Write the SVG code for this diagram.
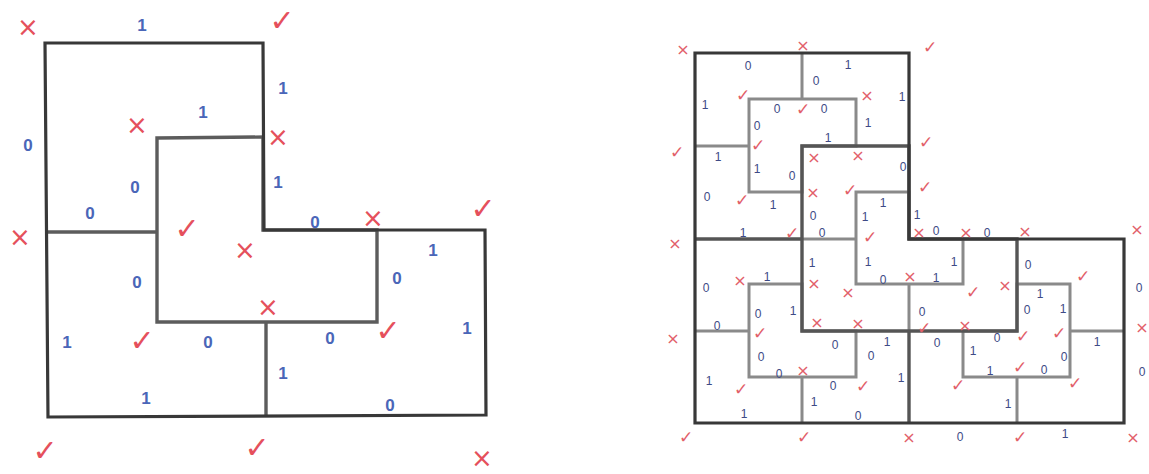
<svg xmlns="http://www.w3.org/2000/svg" width="1149" height="474" viewBox="0 0 1149 474">
<style>
.bg{fill:#ffffff}
.o{fill:none;stroke:#383838;stroke-width:3.2;stroke-linejoin:miter}
.l1{fill:none;stroke:#555555;stroke-width:3.4}
.l2{fill:none;stroke:#8a8a8a;stroke-width:3}
.in{fill:none;stroke:#5c5c5c;stroke-width:3.4}
text{text-anchor:middle;dominant-baseline:central}
.b{fill:#4a66b8;font-family:"Liberation Sans",Arial,sans-serif;font-size:17px;font-weight:bold}
.r{fill:#e5505c;font-family:"DejaVu Sans",sans-serif;font-size:26px}
.rc{fill:#e5505c;font-family:"DejaVu Sans",sans-serif;font-size:30px}
.bs{fill:#3e4a86;font-family:"Liberation Sans",Arial,sans-serif;font-size:12px}
.rs{fill:#e2606a;font-family:"DejaVu Sans",sans-serif;font-size:16px}
.rcs{fill:#e2606a;font-family:"DejaVu Sans",sans-serif;font-size:17px}
</style>
<rect class="bg" x="0" y="0" width="1149" height="474"/>

<g id="left-figure">
  <path class="in" d="M157,138 L263,137 L263,230 L377,230 L377,322 L157,322 Z"/>
  <path class="in" d="M46,232 L157,232 M266,322 L266,417"/>
  <path class="o" d="M45,43 L263,43 L264,230 L485,230 L486,415 L48,417 Z"/>
</g>

<g id="right-figure">
  <g id="level2">
    <path class="l2" d="M749,99 L856,99 L856,146 L802,146 L802,192 L749,192 Z M802,53 L802,99 M695,146 L749,146"/>
    <path class="l2" d="M856,192 L909,192 L909,239 L963,239 L963,284 L856,284 Z M802,239 L856,239 M909,284 L909,331"/>
    <path class="l2" d="M749,284 L802,284 L802,331 L856,331 L856,377 L749,377 Z M695,331 L749,331 M802,377 L802,423"/>
    <path class="l2" d="M1017,284 L1070,284 L1070,377 L963,377 L963,331 L1017,331 Z M1070,331 L1124,331 M1017,377 L1017,423"/>
  </g>
  <g id="level1">
    <path class="l1" d="M802,146 L909,146 L909,239 L1017,239 L1017,331 L802,331 Z M695,239 L802,239 M909,331 L909,423"/>
  </g>
  <path class="o" d="M695,53 L909,53 L909,239 L1124,239 L1124,423 L695,423 Z"/>
</g>

<g id="left-labels">
  <text class="r" x="28" y="27">×</text>
  <text class="b" x="142" y="25">1</text>
  <text class="rc" x="282" y="20">✓</text>
  <text class="b" x="283" y="88">1</text>
  <text class="b" x="203" y="112">1</text>
  <text class="r" x="137" y="125">×</text>
  <text class="r" x="278" y="137">×</text>
  <text class="b" x="28" y="145">0</text>
  <text class="b" x="135" y="187">0</text>
  <text class="b" x="278" y="182">1</text>
  <text class="b" x="90" y="213">0</text>
  <text class="rc" x="187" y="228">✓</text>
  <text class="b" x="315" y="222">0</text>
  <text class="r" x="373" y="218">×</text>
  <text class="rc" x="483" y="208">✓</text>
  <text class="r" x="20" y="237">×</text>
  <text class="r" x="245" y="250">×</text>
  <text class="b" x="433" y="250">1</text>
  <text class="b" x="137" y="282">0</text>
  <text class="b" x="397" y="278">0</text>
  <text class="r" x="268" y="307">×</text>
  <text class="b" x="467" y="328">1</text>
  <text class="b" x="67" y="342">1</text>
  <text class="rc" x="142" y="340">✓</text>
  <text class="b" x="208" y="342">0</text>
  <text class="b" x="330" y="338">0</text>
  <text class="rc" x="388" y="330">✓</text>
  <text class="b" x="283" y="373">1</text>
  <text class="b" x="146" y="398">1</text>
  <text class="b" x="390" y="405">0</text>
  <text class="rc" x="45" y="450">✓</text>
  <text class="rc" x="257" y="447">✓</text>
  <text class="r" x="482" y="458">×</text>
</g>

<g id="right-labels">
  <text class="rs" x="683" y="49">×</text>
  <text class="rs" x="803" y="45">×</text>
  <text class="rs" x="867" y="95">×</text>
  <text class="rs" x="814" y="157">×</text>
  <text class="rs" x="858" y="155">×</text>
  <text class="rs" x="813" y="192">×</text>
  <text class="rs" x="675" y="243">×</text>
  <text class="rs" x="919" y="232">×</text>
  <text class="rs" x="966" y="232">×</text>
  <text class="rs" x="1025" y="231">×</text>
  <text class="rs" x="1137" y="229">×</text>
  <text class="rs" x="910" y="276">×</text>
  <text class="rs" x="1005" y="285">×</text>
  <text class="rs" x="848" y="292">×</text>
  <text class="rs" x="740" y="280">×</text>
  <text class="rs" x="814" y="283">×</text>
  <text class="rs" x="817" y="322">×</text>
  <text class="rs" x="858" y="323">×</text>
  <text class="rs" x="965" y="325">×</text>
  <text class="rs" x="1142" y="327">×</text>
  <text class="rs" x="673" y="338">×</text>
  <text class="rs" x="803" y="370">×</text>
  <text class="rs" x="909" y="437">×</text>
  <text class="rs" x="1133" y="437">×</text>

  <text class="rcs" x="930" y="47">✓</text>
  <text class="rcs" x="743" y="95">✓</text>
  <text class="rcs" x="803" y="109">✓</text>
  <text class="rcs" x="677" y="152">✓</text>
  <text class="rcs" x="758" y="145">✓</text>
  <text class="rcs" x="926" y="142">✓</text>
  <text class="rcs" x="850" y="190">✓</text>
  <text class="rcs" x="925" y="187">✓</text>
  <text class="rcs" x="742" y="200">✓</text>
  <text class="rcs" x="792" y="233">✓</text>
  <text class="rcs" x="870" y="237">✓</text>
  <text class="rcs" x="973" y="292">✓</text>
  <text class="rcs" x="1083" y="276">✓</text>
  <text class="rcs" x="760" y="333">✓</text>
  <text class="rcs" x="924" y="328">✓</text>
  <text class="rcs" x="1023" y="336">✓</text>
  <text class="rcs" x="1059" y="333">✓</text>
  <text class="rcs" x="1020" y="367">✓</text>
  <text class="rcs" x="958" y="385">✓</text>
  <text class="rcs" x="1075" y="383">✓</text>
  <text class="rcs" x="863" y="386">✓</text>
  <text class="rcs" x="741" y="389">✓</text>
  <text class="rcs" x="686" y="437">✓</text>
  <text class="rcs" x="804" y="437">✓</text>
  <text class="rcs" x="1020" y="437">✓</text>

  <text class="bs" x="748" y="66">0</text>
  <text class="bs" x="816" y="81">0</text>
  <text class="bs" x="777" y="109">0</text>
  <text class="bs" x="824" y="109">0</text>
  <text class="bs" x="757" y="126">0</text>
  <text class="bs" x="792" y="176">0</text>
  <text class="bs" x="903" y="167">0</text>
  <text class="bs" x="707" y="197">0</text>
  <text class="bs" x="813" y="216">0</text>
  <text class="bs" x="822" y="233">0</text>
  <text class="bs" x="936" y="231">0</text>
  <text class="bs" x="987" y="233">0</text>
  <text class="bs" x="1028" y="265">0</text>
  <text class="bs" x="883" y="280">0</text>
  <text class="bs" x="1139" y="288">0</text>
  <text class="bs" x="706" y="288">0</text>
  <text class="bs" x="1027" y="310">0</text>
  <text class="bs" x="922" y="312">0</text>
  <text class="bs" x="758" y="314">0</text>
  <text class="bs" x="717" y="326">0</text>
  <text class="bs" x="835" y="345">0</text>
  <text class="bs" x="937" y="343">0</text>
  <text class="bs" x="997" y="338">0</text>
  <text class="bs" x="761" y="357">0</text>
  <text class="bs" x="871" y="356">0</text>
  <text class="bs" x="1064" y="357">0</text>
  <text class="bs" x="779" y="374">0</text>
  <text class="bs" x="1044" y="370">0</text>
  <text class="bs" x="1142" y="372">0</text>
  <text class="bs" x="833" y="386">0</text>
  <text class="bs" x="858" y="416">0</text>
  <text class="bs" x="960" y="437">0</text>

  <text class="bs" x="705" y="105">1</text>
  <text class="bs" x="848" y="65">1</text>
  <text class="bs" x="902" y="97">1</text>
  <text class="bs" x="868" y="123">1</text>
  <text class="bs" x="828" y="138">1</text>
  <text class="bs" x="718" y="157">1</text>
  <text class="bs" x="757" y="169">1</text>
  <text class="bs" x="773" y="205">1</text>
  <text class="bs" x="883" y="203">1</text>
  <text class="bs" x="865" y="217">1</text>
  <text class="bs" x="917" y="215">1</text>
  <text class="bs" x="743" y="233">1</text>
  <text class="bs" x="868" y="262">1</text>
  <text class="bs" x="954" y="262">1</text>
  <text class="bs" x="936" y="278">1</text>
  <text class="bs" x="812" y="263">1</text>
  <text class="bs" x="767" y="277">1</text>
  <text class="bs" x="1040" y="294">1</text>
  <text class="bs" x="1063" y="309">1</text>
  <text class="bs" x="793" y="311">1</text>
  <text class="bs" x="887" y="342">1</text>
  <text class="bs" x="1097" y="342">1</text>
  <text class="bs" x="973" y="351">1</text>
  <text class="bs" x="990" y="371">1</text>
  <text class="bs" x="901" y="378">1</text>
  <text class="bs" x="709" y="381">1</text>
  <text class="bs" x="814" y="402">1</text>
  <text class="bs" x="744" y="414">1</text>
  <text class="bs" x="1008" y="404">1</text>
  <text class="bs" x="1065" y="434">1</text>
</g>
</svg>
